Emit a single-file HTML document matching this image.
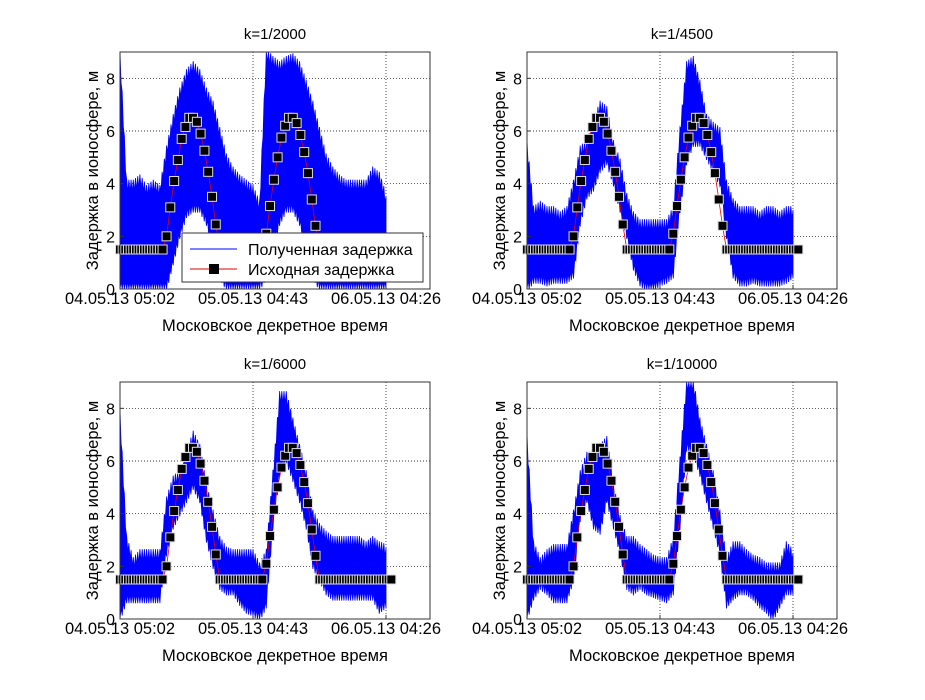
<!DOCTYPE html>
<html><head><meta charset="utf-8"><style>
html,body{margin:0;padding:0;background:#fff;}
svg text{font-family:"Liberation Sans",sans-serif;fill:#000;}
</style></head><body>
<svg id="fig" width="925" height="695" viewBox="0 0 925 695" xmlns="http://www.w3.org/2000/svg"></svg>
<script>
// ---- data ----
const dayGrid = [0,0.05,0.1,0.15,0.2,0.25,0.3,0.35,0.4,0.45,0.5,0.55,0.6,0.65,0.7,0.75,0.8,0.85,0.9,0.95,1.0,1.05,1.1,1.15,1.2,1.25,1.3,1.35,1.4,1.45,1.5,1.55,1.6,1.65,1.7,1.75,1.8,1.85,1.9,1.95,2.0];
const titles = ["k=1/2000","k=1/4500","k=1/6000","k=1/10000"];
const xTickLabels = ["04.05.13 05:02","05.05.13 04:43","06.05.13 04:26"];
const xTickDays = [0,1,2];
const yTicks = [0,2,4,6,8];
const upper1 = [9,4,4,4.2,3.8,4,3.8,5.3,6.5,7.5,8.2,8.5,8.2,7.5,7,6,5,4.5,4.2,4,3.8,3.2,9,8.7,8.5,8.7,8.8,8.5,7.8,7,6,5,4.5,4.2,4,4,4,4,4.5,4.3,3.5];
const lower1 = [0,0,0,0,0,0,0,0,1,2,2.8,3,3,2.5,1.5,0.5,0,0,0,0,0,0,0.5,1.5,2.5,3,3,2.5,1.5,0.5,0,0,0,0,0,0,0,0,0,0,0];
const upper2 = [5.5,3,3.2,3,3,2.8,3,4,5.3,5.5,6.3,7,6.8,5.5,4.8,3.5,2.8,2.5,2.5,2.5,2.5,2.5,3,6,8.5,8.7,7.8,6.5,6.2,6,4,3.3,3,3,3,2.8,3,3,2.8,3,3];
const lower2 = [0,0.3,0.3,0.2,0.3,0.3,0.3,0.5,2.5,3.5,3.8,4.5,4.8,4,3,2,0.8,0.2,0,0,0.2,0.3,0.5,3,4.8,5.5,5.5,5,4.5,4,2,0.5,0.2,0.2,0.3,0.2,0.2,0.2,0.2,0.3,0.5];
const upper3 = [7.8,3,2.2,2.5,2.5,2.5,2.5,4.5,5.3,5.5,6.2,7,6.5,5,4,3,2.6,2.5,2.5,2.5,2.5,2,2.5,5.5,8.5,8.5,7.5,6.5,5.5,4,3.5,3.2,3,3,3,3,3,2.8,3,2.8,2.7];
const lower3 = [0,0.7,0.7,0.7,0.7,0.7,0.7,2.5,3.5,4,4.5,5,4.5,3,2,1.2,1,1,0.6,0.3,0.2,0,0.5,3.5,5.5,6,5.3,4.5,3.5,2,1.5,1,0.8,0.8,0.8,0.8,0.8,0.8,0.8,0.3,0.5];
const upper4 = [6.9,2.8,2.2,2.5,2.7,2.7,2.7,4,5.5,6.2,6.2,6.5,6.8,5,3.8,3,3,2.7,2.5,2.3,2.2,2.2,3,6,9,9,7.5,6.5,5.5,4,2.2,2.8,2.8,2.5,2.3,2.2,2,2,2,2.8,2.5];
const lower4 = [0,0.8,1.2,1,0.7,0.7,0.7,1.5,3.8,4.5,3.5,3.3,4.5,3.5,2.5,1.2,1,1.2,1,0.9,0.8,0.7,1,3.5,6.5,6.3,5.5,4.5,3.5,2.5,0.5,0.8,1,1,0.8,0.5,0.3,0,0.5,1,1];
const bump1Days = [0.35,0.378,0.407,0.435,0.464,0.492,0.521,0.549,0.578,0.606,0.635,0.663,0.692,0.72];
const bump1Vals = [2.0,3.1,4.1,4.9,5.7,6.15,6.5,6.5,6.35,5.9,5.25,4.45,3.5,2.45];
const bump2Days = [1.1,1.128,1.157,1.185,1.214,1.242,1.271,1.299,1.328,1.356,1.385,1.413,1.442,1.47];
const bump2Vals = [2.1,3.15,4.15,5.0,5.75,6.2,6.5,6.5,6.3,5.85,5.2,4.4,3.4,2.4];
const baseLevel = 1.5;
const flatSegments = [[0,0.33],[0.75,1.08],[1.5,2.04]];
const uppers = [upper1,upper2,upper3,upper4];
const lowers = [lower1,lower2,lower3,lower4];

// ---- layout ----
const NS = "http://www.w3.org/2000/svg";
const svg = document.getElementById('fig');
const panels = [{l:120,t:52},{l:527,t:52},{l:120,t:382},{l:527,t:382}];
const W = 310, H = 237, YMAX = 9, PXDAY = 133;
function mk(tag, attrs, parent){ const e=document.createElementNS(NS,tag); for(const k in attrs) e.setAttribute(k,attrs[k]); (parent||svg).appendChild(e); return e; }

panels.forEach((p, i) => {
  const xs = d => p.l + d*PXDAY;
  const ys = v => p.t + H - v/YMAX*H;
  const g = mk('g', {});
  
  
  const clipId = 'clip'+i;
  const cp = mk('clipPath', {id: clipId}, g);
  mk('rect', {x:p.l, y:p.t, width:W, height:H}, cp);
  yTicks.forEach(v => { if (v>0) { const ln = mk('line', {x1:p.l, x2:p.l+W, y1:ys(v), y2:ys(v), stroke:'#000', 'stroke-width':0.7, 'stroke-dasharray':'1,2'}, g);
      } });
  xTickDays.forEach(d => { if (d>0) { const ln = mk('line', {x1:xs(d), x2:xs(d), y1:p.t, y2:p.t+H, stroke:'#000', 'stroke-width':0.7, 'stroke-dasharray':'1,2'}, g);
      } });
  const up = uppers[i], lo = lowers[i];
  let pts = [];
  for (let k=0;k<dayGrid.length-1;k++){
    for (let s=0;s<6;s++){ const f=s/6; const d=dayGrid[k]+f*(dayGrid[k+1]-dayGrid[k]);
      const v=up[k]+f*(up[k+1]-up[k]) + (s%2? -0.35:0.15); pts.push(xs(d).toFixed(1)+','+ys(Math.min(9,Math.max(0,v))).toFixed(1)); }
  }
  pts.push(xs(dayGrid[dayGrid.length-1])+','+ys(up[up.length-1]));
  for (let k=dayGrid.length-1;k>0;k--){
    for (let s=0;s<6;s++){ const f=s/6; const d=dayGrid[k]-f*(dayGrid[k]-dayGrid[k-1]);
      const v=lo[k]+f*(lo[k-1]-lo[k]) + (s%2? 0.3:-0.1); pts.push(xs(d).toFixed(1)+','+ys(Math.min(9,Math.max(0,v))).toFixed(1)); }
  }
  pts.push(xs(0)+','+ys(lo[0]));
  const band = mk('polygon', {points: pts.join(' '), fill:'#0000ff', stroke:'#0000ff', 'stroke-width':0.8, 'clip-path':'url(#'+clipId+')'}, g);
  
  
  const fd = [];
  flatSegments.forEach((seg, si) => { for (let d=seg[0]; d<=seg[1]+1e-6; d+=0.02) fd.push([d, baseLevel, si]); });
  const all = [];
  fd.filter(q=>q[2]===0).forEach(q=>all.push([q[0],q[1]]));
  bump1Days.forEach((d,j)=>all.push([d,bump1Vals[j]]));
  fd.filter(q=>q[2]===1).forEach(q=>all.push([q[0],q[1]]));
  bump2Days.forEach((d,j)=>all.push([d,bump2Vals[j]]));
  fd.filter(q=>q[2]===2).forEach(q=>all.push([q[0],q[1]]));
  const rl = mk('polyline', {points: all.map(q=>xs(q[0]).toFixed(1)+','+ys(q[1]).toFixed(1)).join(' '), fill:'none', stroke:'#e00000', 'stroke-width':0.8}, g);
  
  
  all.forEach(q => {
    const r = mk('rect', {x:xs(q[0])-4.5, y:ys(q[1])-4.5, width:9, height:9, fill:'#000', stroke:'#ddd', 'stroke-width':1}, g);
    
    
  });
  const fr = mk('rect', {x:p.l, y:p.t, width:W, height:H, fill:'none', stroke:'#333', 'stroke-width':1}, g);
   
  yTicks.forEach(v => {
    mk('line', {x1:p.l, x2:p.l+4, y1:ys(v), y2:ys(v), stroke:'#333'}, g);
    const t = mk('text', {x:p.l-5, y:ys(v)+6, 'text-anchor':'end', 'font-size':16}, g); t.textContent = v;
     
  });
  xTickDays.forEach((d,j) => {
    mk('line', {x1:xs(d), x2:xs(d), y1:p.t+H, y2:p.t+H-4, stroke:'#333'}, g);
    const t = mk('text', {x:xs(d), y:p.t+H+15, 'text-anchor':'middle', 'font-size':16.5}, g); t.textContent = xTickLabels[j];
     
  });
  const tt = mk('text', {x:p.l+W/2, y:p.t-13, 'text-anchor':'middle', 'font-size':15}, g); tt.textContent = titles[i];
   
  const xl = mk('text', {x:p.l+W/2, y:p.t+H+42, 'text-anchor':'middle', 'font-size':16.5}, g); xl.textContent = 'Московское декретное время';
   
  const yl = mk('text', {x:0, y:0, 'text-anchor':'middle', 'font-size':16.5, transform:'translate('+(p.l-22)+','+(p.t+H/2)+') rotate(-90)'}, g); yl.textContent = 'Задержка в ионосфере, м';
   

  if (i===0) {
    const lg = mk('g', {}, g);
     
    mk('rect', {x:182, y:233, width:241, height:49, fill:'#fff', stroke:'#333', 'stroke-width':1}, lg);
    mk('line', {x1:190, x2:237, y1:249, y2:249, stroke:'#0000ff', 'stroke-width':1}, lg);
    const t1 = mk('text', {x:248, y:255, 'font-size':16}, lg); t1.textContent = 'Полученная задержка';
     
    mk('line', {x1:190, x2:237, y1:269, y2:269, stroke:'#e00000', 'stroke-width':1}, lg);
    mk('rect', {x:209, y:264, width:10, height:10, fill:'#000'}, lg);
    const t2 = mk('text', {x:248, y:275, 'font-size':16}, lg); t2.textContent = 'Исходная задержка';
     
  }
});
</script>
</body></html>
